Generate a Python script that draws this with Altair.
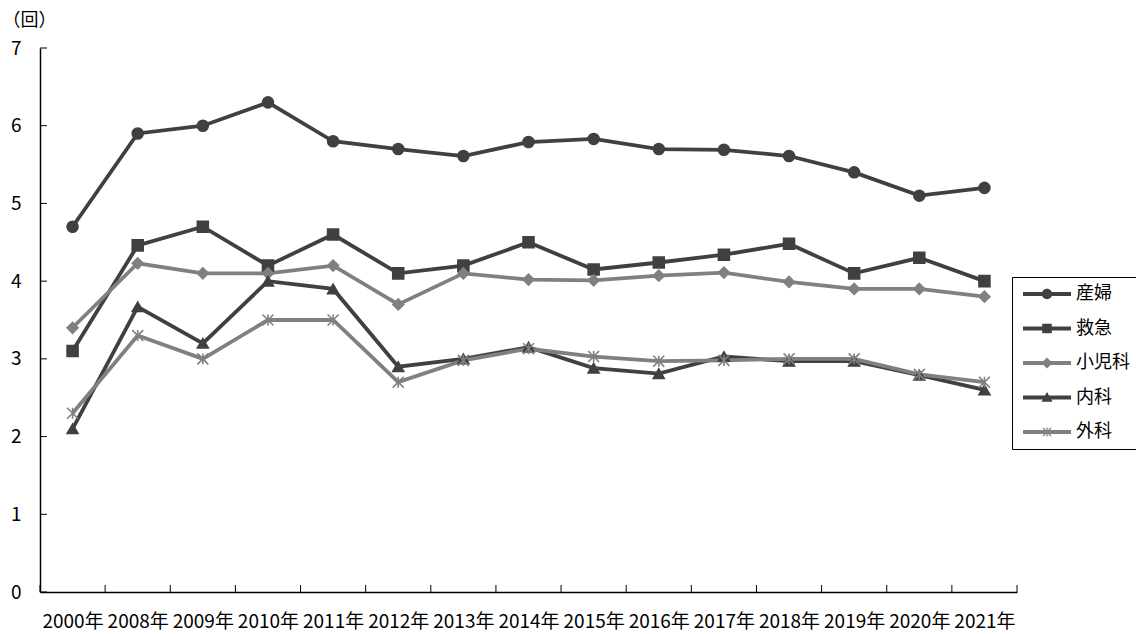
import json
import math
import altair as alt
import pandas as pd

# ---- data -------------------------------------------------------------
years = ["2000年", "2008年", "2009年", "2010年", "2011年", "2012年", "2013年",
         "2014年", "2015年", "2016年", "2017年", "2018年", "2019年", "2020年", "2021年"]

series = ["産婦", "救急", "小児科", "内科", "外科"]

sanpu = [4.7, 5.9, 6.0, 6.3, 5.8, 5.7, 5.61, 5.79, 5.83, 5.7, 5.69, 5.61, 5.4, 5.1, 5.2]
kyukyu = [3.1, 4.46, 4.7, 4.2, 4.6, 4.1, 4.2, 4.5, 4.15, 4.24, 4.34, 4.48, 4.1, 4.3, 4.0]
shonika = [3.4, 4.23, 4.1, 4.1, 4.2, 3.7, 4.1, 4.02, 4.01, 4.07, 4.11, 3.99, 3.9, 3.9, 3.8]
naika = [2.1, 3.67, 3.2, 4.0, 3.9, 2.9, 3.0, 3.15, 2.88, 2.81, 3.03, 2.97, 2.97, 2.79, 2.6]
geka = [2.3, 3.3, 3.0, 3.5, 3.5, 2.7, 2.98, 3.13, 3.03, 2.97, 2.98, 3.0, 3.0, 2.8, 2.7]

y_ticks = [0, 1, 2, 3, 4, 5, 6, 7]

# ---- styling ------------------------------------------------------------
FONT = "Noto Sans CJK JP"
DARK = "#404040"
LIGHT = "#808080"
colors = [DARK, DARK, LIGHT, DARK, LIGHT]

W, H = 977, 544

# marker shapes on the plot
marker_shapes = [
    "circle",
    "square",
    "diamond",
    "triangle-up",
    "M-1,-1L1,1M-1,1L1,-1M0,-1L0,1",  # asterisk (stroke only)
]

# legend symbol geometry: SYM px per path unit pair, symbol drawn from
# LX0..LX1 px and its marker at MX px, relative to the symbol anchor
SYM = 16
U = SYM / 2.0
LX0, LX1, MX = -6.0, 42.0, 18.0


def _orient(pts):
    """Return the polygon wound clockwise on screen (y down)."""
    area = 0.0
    for i in range(len(pts)):
        x1, y1 = pts[i]
        x2, y2 = pts[(i + 1) % len(pts)]
        area += x1 * y2 - x2 * y1
    return pts if area > 0 else pts[::-1]


def _poly(pts_px):
    pts = _orient([(x / U, y / U) for x, y in pts_px])
    return "M" + "L".join(f"{x:.4f},{y:.4f}" for x, y in pts) + "Z"


def _bar(x1, y1, x2, y2, w):
    dx, dy = x2 - x1, y2 - y1
    L = math.hypot(dx, dy)
    nx, ny = -dy / L * w, dx / L * w
    return _poly([(x1 + nx, y1 + ny), (x2 + nx, y2 + ny), (x2 - nx, y2 - ny), (x1 - nx, y1 - ny)])


def _circle(cx, r):
    c, rr = cx / U, r / U
    return f"M{c + rr:.4f},0A{rr:.4f},{rr:.4f} 0 1 1 {c - rr:.4f},0A{rr:.4f},{rr:.4f} 0 1 1 {c + rr:.4f},0Z"


line_part = _poly([(LX0, -2), (LX1, -2), (LX1, 2), (LX0, 2)])
circle_part = _circle(MX, 5.2)
square_part = _poly([(MX - 4.8, -4.8), (MX + 4.8, -4.8), (MX + 4.8, 4.8), (MX - 4.8, 4.8)])
diamond_part = _poly([(MX, -5.5), (MX + 5.5, 0), (MX, 5.5), (MX - 5.5, 0)])
tri_part = _poly([(MX, -5.5), (MX + 5.5, 4.2), (MX - 5.5, 4.2)])
star_part = (_bar(MX - 4, -4, MX + 4, 4, 0.6) + _bar(MX - 4, 4, MX + 4, -4, 0.6)
             + _bar(MX, -4.5, MX, 4.5, 0.6))
legend_shapes = [
    line_part + circle_part,
    line_part + square_part,
    line_part + diamond_part,
    line_part + tri_part,
    line_part + star_part,
]

# ---- table ---------------------------------------------------------------
values = [sanpu, kyukyu, shonika, naika, geka]
rows = []
for s_name, vals in zip(series, values):
    for i, (yr, v) in enumerate(zip(years, vals)):
        rows.append({"idx": i, "year": yr, "series": s_name, "value": v})
df = pd.DataFrame(rows)

label_expr = json.dumps(years, ensure_ascii=False) + "[datum.value]"

x_scale = alt.Scale(domain=[-0.5, len(years) - 0.5], nice=False, zero=False)
y_scale = alt.Scale(domain=[0, 7], nice=False, zero=True)

x_enc = alt.X(
    "idx:Q",
    scale=x_scale,
    axis=alt.Axis(
        values=list(range(len(years))),
        labelExpr=label_expr,
        ticks=False,
        grid=False,
        labelFlush=False,
        labelPadding=20,
        title=None,
    ),
)
y_enc = alt.Y(
    "value:Q",
    scale=y_scale,
    axis=alt.Axis(
        values=y_ticks,
        format="d",
        ticks=False,
        grid=False,
        labelPadding=19,
        title="（回）",
        titleAngle=0,
        titleAlign="left",
        titleBaseline="middle",
        titleX=-38,
        titleY=-28,
        titleFontSize=18,
        titleFontWeight="normal",
        titleFont=FONT,
        titleColor="#000000",
    ),
)

color_scale = alt.Scale(domain=series, range=colors)

lines = alt.Chart(df).mark_line(strokeWidth=3.8).encode(
    x=x_enc,
    y=y_enc,
    color=alt.Color("series:N", scale=color_scale, legend=None),
    detail="series:N",
)

points = alt.Chart(df).mark_point(filled=True, opacity=1, size=120, strokeWidth=1.6).encode(
    x=x_enc,
    y=y_enc,
    color=alt.Color("series:N", scale=color_scale, legend=None),
    stroke=alt.Stroke("series:N", scale=alt.Scale(domain=series, range=colors), legend=None),
    shape=alt.Shape("series:N", scale=alt.Scale(domain=series, range=marker_shapes), legend=None),
)

legend_props = dict(
    title=None,
    orient="none",
    legendX=972,
    legendY=229,
    symbolSize=SYM * SYM,
    symbolStrokeWidth=0,
    symbolOpacity=1,
    labelFont=FONT,
    labelFontSize=18,
    labelColor="#000000",
    labelOffset=38,
    rowPadding=16.5,
    padding=8,
    strokeColor="#000000",
    fillColor="#ffffff",
)

legend_layer = alt.Chart(pd.DataFrame({"series": series, "idx": 0, "value": 0})).transform_filter(
    "false"
).mark_point(filled=True, opacity=1).encode(
    x=x_enc,
    y=y_enc,
    color=alt.Color("series:N", scale=alt.Scale(domain=series, range=colors),
                    legend=alt.Legend(**legend_props)),
    shape=alt.Shape("series:N", scale=alt.Scale(domain=series, range=legend_shapes),
                    legend=alt.Legend(**legend_props)),
)

# inward tick marks on both axes
ytick_rules = alt.Chart(pd.DataFrame({"value": y_ticks})).mark_rule(
    color="#000000", strokeWidth=1
).encode(y=alt.Y("value:Q", scale=y_scale), x=alt.value(0), x2=alt.value(7))

bounds = [i - 0.5 for i in range(len(years) + 1)]
xtick_rules = alt.Chart(pd.DataFrame({"idx": bounds})).mark_rule(
    color="#000000", strokeWidth=1
).encode(x=alt.X("idx:Q", scale=x_scale), y=alt.value(H - 7), y2=alt.value(H))

chart = (
    alt.layer(ytick_rules, xtick_rules, lines, points, legend_layer)
    .resolve_scale(color="independent", shape="independent", stroke="independent")
    .properties(
        width=W,
        height=H,
        autosize=alt.AutoSizeParams(type="none"),
        padding={"left": 40, "top": 48, "right": 119, "bottom": 42},
        background="#ffffff",
    )
    .configure_view(stroke=None)
    .configure_axis(
        domainColor="#000000",
        domainWidth=1.5,
        labelFont=FONT,
        labelFontSize=19,
        labelColor="#000000",
    )
)

chart.save("out.html", embed_options={"renderer": "svg", "actions": False})
